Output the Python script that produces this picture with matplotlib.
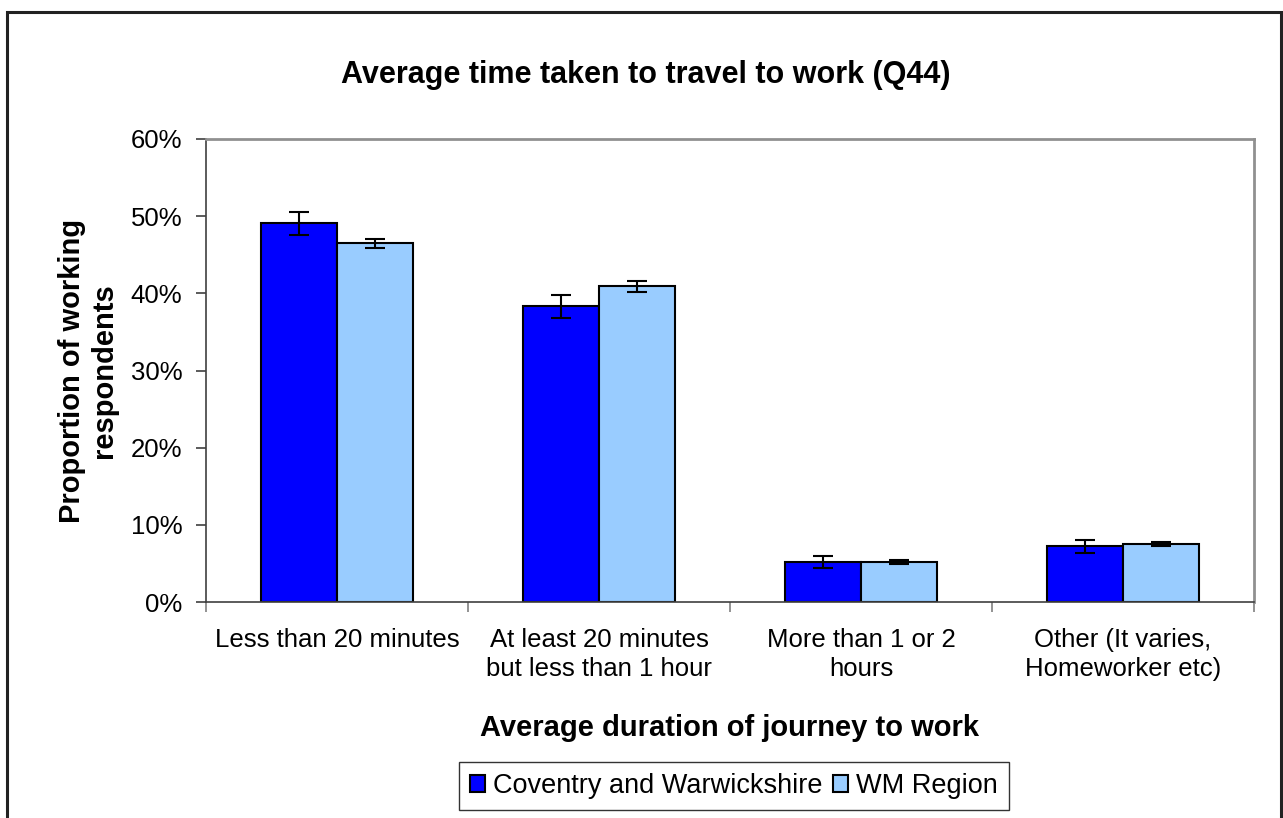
import matplotlib.pyplot as plt
import numpy as np
from matplotlib.patches import Rectangle

plt.rcParams['font.family'] = ['Liberation Sans', 'DejaVu Sans']

# data (percent)
categories = ["Less than 20 minutes", "At least 20 minutes\nbut less than 1 hour",
              "More than 1 or 2\nhours", "Other (It varies,\nHomeworker etc)"]
cov_warw = [49.1, 38.3, 5.2, 7.2]
cov_err = [1.5, 1.5, 0.8, 0.8]
wm_region = [46.5, 40.9, 5.2, 7.5]
wm_err = [0.6, 0.7, 0.3, 0.3]
series_names = ["Coventry and Warwickshire", "WM Region"]

fig = plt.figure(figsize=(12.83, 8.18), dpi=100)
ax = fig.add_axes([206/1283, 1-602/818, (1254-206)/1283, (602-139)/818])

x = np.arange(len(categories))
w = 0.29
err_kw = dict(ecolor='black', capsize=7, elinewidth=1.5, capthick=1.5)
ax.bar(x - w/2, cov_warw, w, yerr=cov_err, color='#0000ff', edgecolor='black',
       linewidth=1.5, error_kw=err_kw, label=series_names[0])
ax.bar(x + w/2, wm_region, w, yerr=wm_err, color='#99ccff', edgecolor='black',
       linewidth=1.5, error_kw=err_kw, label=series_names[1])

ax.set_xlim(-0.5, len(categories) - 0.5)
ax.set_ylim(0, 60)
ax.set_yticks(range(0, 61, 10))
ax.set_yticklabels([f"{v}%" for v in range(0, 61, 10)], fontsize=18.5)
ax.set_xticks(x)
ax.set_xticklabels(categories, fontsize=18.5, linespacing=1.25)
ax.tick_params(axis='x', length=0, pad=19)
ax.tick_params(axis='y', length=7, width=1.2, color='#404040', pad=10)
# tick marks between categories
ax.set_xticks(np.arange(len(categories) + 1) - 0.5, minor=True)
ax.tick_params(axis='x', which='minor', length=7, width=1.2, color='#808080')

for side in ['top', 'right']:
    ax.spines[side].set_color('#909090')
    ax.spines[side].set_linewidth(2)
ax.spines['left'].set_color('#404040')
ax.spines['bottom'].set_color('#404040')
ax.spines['left'].set_linewidth(1.2)
ax.spines['bottom'].set_linewidth(1.2)

ax.set_ylabel("Proportion of working\nrespondents", fontsize=21, fontweight='bold',
              labelpad=9, linespacing=1.2)
ax.set_xlabel("Average duration of journey to work", fontsize=21, fontweight='bold',
              labelpad=24)
fig.text(646/1283, 1-75/818, "Average time taken to travel to work (Q44)", fontsize=22,
         fontweight='bold', ha='center', va='center')

leg = fig.legend(loc='center', bbox_to_anchor=(734/1283, 1-786/818), ncol=2,
                 fontsize=19.5, frameon=True, fancybox=False, handlelength=0.55,
                 handleheight=0.55, handletextpad=0.3, columnspacing=0.4,
                 borderpad=0.4, borderaxespad=0)
leg.get_frame().set_edgecolor('black')
leg.get_frame().set_linewidth(1.0)

fig.patches.append(Rectangle((7/1283, -0.05), (1281-7)/1283, 1-11.7/818+0.05,
                             transform=fig.transFigure, fill=False,
                             edgecolor='#222222', linewidth=2.2))

fig.savefig("out.png", dpi=100)
